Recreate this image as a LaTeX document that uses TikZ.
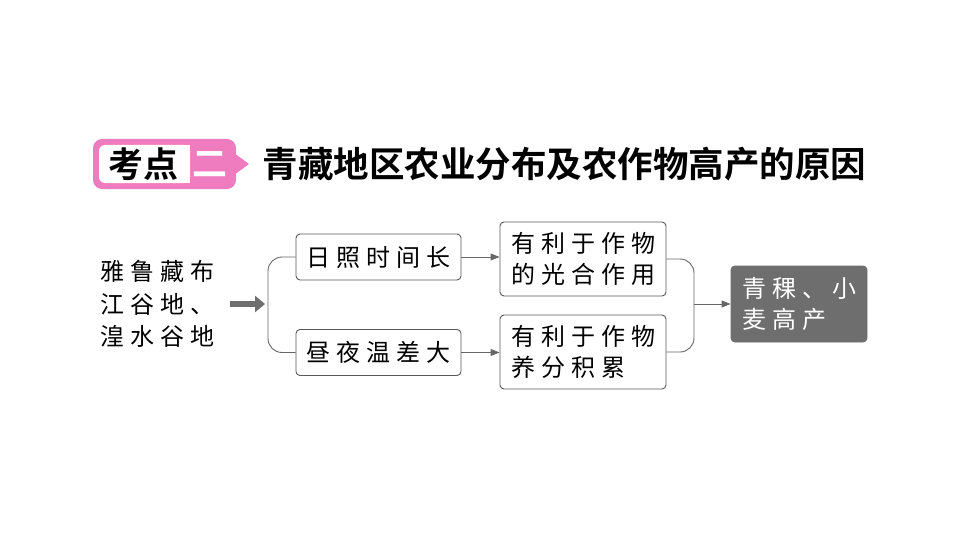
\documentclass[tikz,border=0pt]{standalone}
\usepackage{fontspec}
\setmainfont{Noto Sans CJK SC}
\newfontfamily\cjkbold{Noto Sans CJK SC Bold}
\newfontfamily\cjkwide[LetterSpace=25]{Noto Sans CJK SC}
\usetikzlibrary{positioning,arrows.meta}
\definecolor{badgepink}{HTML}{F07CC0}
\definecolor{boxgray}{HTML}{6E6E6E}
\tikzset{
  reason/.style={draw=black!65,rounded corners=4pt,line width=0.9pt,fill=white,align=left,font=\cjkwide\fontsize{24}{31}\selectfont},
  link/.style={draw=black!60,line width=0.9pt,-{Triangle[length=9pt,width=7pt]}},
}
\begin{document}
\begin{tikzpicture}[x=1pt,y=-1pt]
\useasboundingbox (0,0) rectangle (960,540);

% heading
\fill[badgepink,rounded corners=9pt] (93,139) rectangle (236,189);
\fill[badgepink] (234,153) -- (249,164) -- (234,175) -- cycle;
\fill[white,rounded corners=6pt] (99,145) rectangle (190,183);
\fill[white] (180,145) rectangle (190,183);
\node[font=\cjkbold\fontsize{35}{35}\selectfont] (kd) at (143,164) {考点};
\node[font=\cjkbold\fontsize{35}{35}\selectfont,text=white] (er) at (210,164) {二};
\node[anchor=west,font=\cjkbold\fontsize{35.5}{36}\selectfont] (title) at (259,164) {青藏地区农业分布及农作物高产的原因};

% flow
\node[align=left,anchor=west,font=\cjkwide\fontsize{24}{32.5}\selectfont] (place) at (97,304) {雅鲁藏布\\江谷地、\\湟水谷地};
\node[reason,minimum width=165pt,minimum height=46pt] (sun) at (378.5,257) {日照时间长};
\node[reason,minimum width=165pt,minimum height=46pt] (temp) at (378.5,352.5) {昼夜温差大};
\node[reason,minimum width=166pt,minimum height=74pt] (photo) at (583,259) {有利于作物\\的光合作用};
\node[reason,minimum width=166pt,minimum height=74pt] (store) at (583,352) {有利于作物\\养分积累};
\node[reason,draw=boxgray,fill=boxgray,text=white,minimum width=136pt,minimum height=76pt] (crop) at (799,304) {青稞、小\\麦高产};

\coordinate (fork) at (268,304);
\coordinate (join) at (694,304);
\draw[boxgray,line width=6pt,-{Triangle[length=10pt,width=16pt]}] (230,304) -- (265,304);
\draw[draw=black!60,line width=0.9pt,rounded corners=14pt] (sun.west) -| (fork) |- (temp.west);
\draw[link] (sun) -- (photo.west |- sun);
\draw[link] (temp) -- (store.west |- temp);
\draw[draw=black!60,line width=0.9pt,rounded corners=14pt] (photo.east) -| (join) |- (store.east);
\draw[link] (join) -- (crop);
\end{tikzpicture}
\end{document}
